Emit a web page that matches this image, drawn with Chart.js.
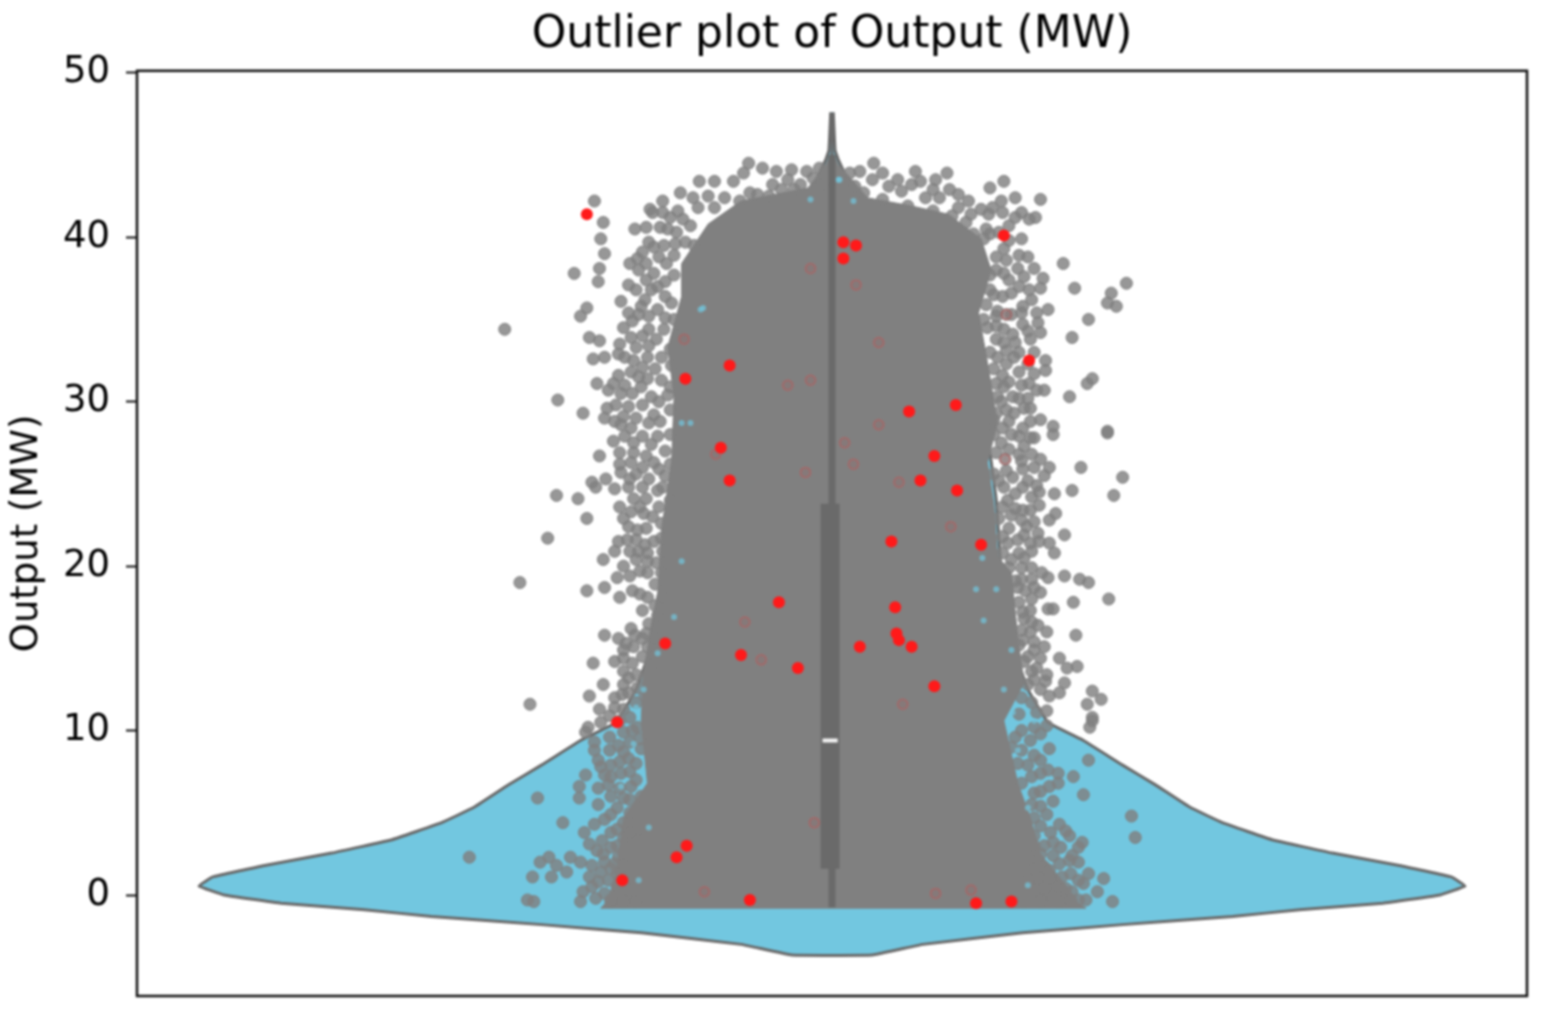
<!DOCTYPE html>
<html>
<head>
<meta charset="utf-8">
<title>Outlier plot of Output (MW)</title>
<script src="https://cdn.jsdelivr.net/npm/chart.js@4"></script>
<style>
    html, body { margin: 0; padding: 0; background: #fff; }
    canvas { display: block; filter: blur(0.8px); }
</style>
</head>
<body>
<canvas id="outlierChart" width="1542" height="1013"></canvas>
<script>
const yTickStep = 10;

// violin half width at each output level, read top to bottom
const violinY = [47.6, 45.3, 44.7, 43.1, 41.7, 39.8, 36.2, 30.1, 24, 19.6, 16.1, 14.5, 12.5, 10.5, 9.4, 7.9, 6.7, 5.35, 4.4, 3.35, 2.55, 1.8, 1.1, 0.55, 0, -0.5, -0.9, -1.3, -1.8, -2.3, -3.0, -3.65];
const violinHalf = [0.001, 0.0024, 0.005, 0.015, 0.028, 0.055, 0.095, 0.119, 0.13, 0.134, 0.143, 0.146, 0.155, 0.171, 0.199, 0.23, 0.256, 0.283, 0.309, 0.349, 0.396, 0.449, 0.49, 0.501, 0.481, 0.436, 0.37, 0.317, 0.23, 0.151, 0.072, 0.032];

// where the points are so dense they merge into one solid area
const denseArea = [[0,45.2],[.005,44.4],[.017,43.4],[.028,42.4],[.063,41.9],[.092,41.4],[.118,39.9],[.126,38],[.116,35.4],[.123,32.4],[.131,28.7],[.123,26.3],[.128,23.8],[.131,20.6],[.142,19.6],[.147,15.7],[.152,12.9],[.136,10.6],[.147,6.8],[.157,4.7],[.165,2.5],[.185,.6],[.195,-.5],[.201,-.8],[-.183,-.8],[-.177,-.3],[-.17,1.7],[-.165,4.7],[-.146,6.8],[-.151,10.6],[-.149,13.7],[-.138,18.1],[-.135,22.2],[-.127,26.3],[-.125,30.3],[-.13,33.3],[-.119,36.4],[-.119,38.4],[-.098,40.8],[-.072,42.2],[-.019,43],[-.005,44.4]];

const leftPoints = [[-.188,42.2],[-.181,40.9],[-.183,39.9],[-.18,39],[-.184,38.1],[-.185,37.3],[-.204,37.8],[-.194,35.7],[-.199,35.2],[-.259,34.4],[-.192,33.9],[-.184,33.7],[-.189,32.6],[-.18,32.7],[-.169,32.9],[-.186,31.1],[-.177,30.7],[-.217,30.1],[-.197,29.3],[-.178,29.6],[-.18,29],[-.156,40.5],[-.167,36.1],[-.161,37.1],[-.154,38.7],[-.145,39.7],[-.144,41.7],[-.134,42.2],[-.12,42.7],[-.105,43.4],[-.093,43.4],[-.078,43.4],[-.07,43.9],[-.066,44.5],[-.055,44.2],[-.044,44],[-.032,44.1],[-.035,43.5],[-.047,43.2],[-.098,42.5],[-.073,42.2],[-.059,42.6],[-.093,41.8],[-.106,41.8],[-.122,41.6],[-.134,41.5],[-.142,41.5],[-.13,40.5],[-.123,40.3],[-.109,39.5],[-.141,39.4],[-.15,39.1],[-.153,38],[-.141,37.8],[-.131,38.4],[-.138,37],[-.143,36.8],[-.151,35.8],[-.161,35.4],[-.153,35.3],[-.138,35.6],[-.127,36],[-.145,34.4],[-.165,34.5],[-.159,33.9],[-.133,34.4],[-.157,32.5],[-.146,32.7],[-.135,32.7],[-.169,31.6],[-.159,31.8],[-.167,30.5],[-.151,30.9],[-.143,30.3],[-.13,30.4],[-.161,29.7],[-.165,29.1],[-.155,29],[-.141,29.2],[-.167,28.6],[-.145,28.7],
    [-.164,27.9],[-.15,27.9],[-.184,26.7],[-.157,26.9],[-.159,26.3],[-.15,26],[-.167,25.7],[-.179,25.3],[-.19,25.1],[-.187,24.8],[-.161,24.8],[-.137,25.9],[-.134,24.8],[-.218,24.3],[-.201,24.1],[-.194,22.9],[-.168,23.6],[-.157,24.1],[-.147,24.1],[-.159,23.3],[-.149,23.2],[-.137,23.6],[-.161,22.4],[-.154,22.2],[-.225,21.7],[-.169,21.5],[-.162,21.6],[-.141,21.5],[-.172,20.9],[-.153,20.9],[-.181,20.4],[-.165,20],[-.155,20.4],[-.146,20.3],[-.139,20.2],[-.17,19.3],[-.146,19.6],[-.247,19],[-.194,18.5],[-.18,18.7],[-.168,18.1],[-.146,18.1],[-.15,17.3],[-.159,16.2],[-.18,15.8],[-.169,15.6],[-.163,15.3],[-.15,15.6],[-.165,14.9],[-.189,14.1],[-.172,14.2],[-.165,14.4],[-.181,12.8],[-.165,13.6],[-.161,13.2],[-.165,12.8],[-.192,12.1],[-.172,12],[-.161,12.3],[-.239,11.6],[-.184,11.3],[-.176,10.9],[-.193,10.2],[-.183,10.5],
    [-.195,9.9],[-.188,9.3],[-.176,9.6],[-.169,9.1],[-.188,8.8],[-.185,8.2],[-.183,7.8],[-.195,7.3],[-.167,7.4],[-.161,8.3],[-.151,8.9],[-.2,6.6],[-.2,5.9],[-.233,5.9],[-.177,6.7],[-.159,6.6],[-.175,6],[-.165,5.9],[-.151,6],[-.213,4.4],[-.175,4.9],[-.165,4.4],[-.196,3.8],[-.175,3.8],[-.165,3.5],[-.192,3.1],[-.153,4],[-.287,2.3],[-.224,2.3],[-.207,2.3],[-.231,2],[-.218,1.8],[-.199,2],[-.181,2.5],[-.169,2.3],[-.237,1.1],[-.222,1.1],[-.21,1.4],[-.192,1.1],[-.183,1.4],[-.197,.2],[-.241,-.3],[-.236,-.4],[-.199,-.4],[-.187,-.2],[-.175,-.4],[-.177,.9]];

// thick band of points hugging the left edge of the solid area
const leftBand = [[-.128,41.2],[-.118,41.1],[-.112,40.7],[-.136,40.6],[-.147,40.6],[-.124,39.6],[-.116,39.7],[-.133,39.5],[-.147,38.4],[-.137,38.8],[-.125,38.9],[-.16,38.4],[-.147,37.4],[-.132,37.3],[-.125,37.7],[-.155,36.8],[-.148,36.2],[-.132,36.4],[-.125,35],[-.132,35.1],[-.145,35.2],[-.158,34.9],[-.122,34],[-.139,33.8],[-.15,34],[-.128,33.2],[-.145,33.4],[-.155,33.3],[-.168,33.5],[-.164,32.7],[-.127,32.2],[-.14,32],[-.15,32.1],[-.135,31.3],[-.146,31.4],[-.153,31.5],[-.164,31],[-.173,31.1],[-.128,30.9],[-.137,30],[-.158,30.5],[-.15,29.8],[-.171,29.8],[-.128,29.5],[-.136,28.8],[-.159,28.4],[-.172,28.8],[-.128,28],[-.138,27.9],[-.143,27.4],[-.157,27.5],[-.173,27.6],[-.132,27],[-.147,26.7],[-.168,26.9],[-.128,26.2],[-.141,26.3],[-.168,26.2],[-.132,25.5],[-.145,25.3],[-.155,25.6],[-.16,25.3],[-.138,24.6],[-.15,24.8],[-.172,24.7],[-.152,23.6],[-.128,24],[-.142,23],[-.165,22.9],[-.135,22.6],[-.147,22.3],[-.135,21.7],[-.148,21.3],[-.155,21.6],[-.134,20.9],[-.16,20.9],[-.146,20.8],[-.135,19.6],[-.152,19.7],[-.16,19.4],[-.14,18.9],[-.158,18.5],[-.134,18.1],[-.152,18.3],[-.14,17.6],[-.138,17],[-.145,16.5],[-.147,15.9],[-.156,15.8],[-.14,15.6],[-.157,15.1],[-.146,15.1],[-.15,14.5],[-.158,14.1],[-.143,14],[-.155,13.4],[-.148,13.2],[-.154,12.6],[-.148,12.1],[-.166,12.2],[-.155,11.7],[-.165,11.3],[-.172,11.4],[-.16,10.8],[-.168,10.6],[-.154,10.2],
    [-.165,9.9],[-.158,10],[-.16,9.3],[-.152,9.5],[-.176,8.8],[-.165,8.7],[-.155,8],[-.175,7.9],[-.168,8.1],[-.16,7.5],[-.18,7.3],[-.175,7.2],[-.155,7],[-.168,6.5],[-.185,6.5],[-.185,5.5],[-.16,5.8],[-.17,5.3],[-.18,4.6],[-.16,5],[-.188,4.3],[-.17,4],[-.182,3.3],[-.16,3.8],[-.17,3],[-.186,2.7],[-.175,2.9],[-.165,2.6],[-.18,2],[-.19,1.8],[-.172,1.9],[-.165,1.8],[-.185,.8],[-.17,1.3],[-.175,1.6],[-.19,.5],[-.165,1],[-.17,.5],[-.18,.1],[-.168,.1],[-.175,-.3],[-.165,-.4],[-.155,-.4],[-.16,.3]];

// cap of points around the top of the violin
const topBand = [[-.015,43.6],[-.02,44],[-.01,44.2],[-.025,43.2],[-.03,42.9],[-.008,43.2],[-.04,42.9],[-.05,42.5],[-.065,42.7],[-.085,42.4],[-.11,42.4],[.008,43.3],[.018,43.1],[.022,44],[.04,43.9],[.045,43.1],[.025,42.7],[.04,42.3],[.055,42.8],[.07,43.4],[.08,42.9],[.085,42.4],[.1,42.6],[.108,42.2],[.06,41.9],[.08,41.6],[.095,41.3],[.11,41.4],[.122,40.5],[.125,40.2],[.14,40.7],[.145,41.2],[.12,39.9],[.136,39.3],[.14,39.8],[.15,39.9]];

const rightPoints = [[.033,44.5],[.014,43.9],[.032,43.5],[.066,44],[.052,43.5],[.063,43.2],[.091,43.9],[.082,43.5],[.093,42.9],[.074,42.4],[.125,43],[.136,43.4],[.145,42.4],[.165,42.3],[.134,42.2],[.1,41.8],[.118,41.7],[.127,41.8],[.135,41.5],[.124,41.4],[.15,41.5],[.156,41.1],[.161,41.2],[.106,40.9],[.112,40.2],[.132,40.3],[.13,38.8],[.148,38.9],[.155,38.8],[.183,38.4],[.136,37.8],[.147,38.1],[.16,38.1],[.167,37.5],[.192,36.9],[.233,37.2],[.221,36.6],[.218,36],[.225,35.8],[.156,36.8],[.128,36.5],[.142,36.6],[.151,35.8],[.171,35.6],[.131,35.5],[.203,35],[.151,34.7],[.163,34.8],[.165,34.2],[.123,34.5],[.136,34.4],[.19,33.9],[.157,33.8],[.136,33.6],[.131,32.7],[.169,32.5],[.169,31.9],[.144,32.7],[.148,31.8],[.156,31.1],[.206,31.4],[.202,31.1],[.168,30.7],[.188,30.3],[.136,30.9],[.131,30.3],[.143,30.3],[.157,29.6],[.144,29.3],[.128,28.9],[.175,28.5],[.218,28.2],[.151,28.4],
    [.175,28],[.218,28.1],[.157,27.8],[.148,27.9],[.134,27.5],[.148,26.8],[.172,26],[.168,25.5],[.197,26],[.23,25.4],[.223,24.3],[.19,24.6],[.176,24.4],[.164,24.5],[.151,25.9],[.143,25.4],[.151,24.8],[.136,24.8],[.164,23.7],[.139,24],[.151,23.4],[.177,23.2],[.172,22.8],[.142,23.1],[.154,22.4],[.184,21.9],[.163,22],[.157,21.4],[.164,21.5],[.172,21.4],[.176,20.8],[.152,20.5],[.139,21.4],[.142,20.4],[.166,19.6],[.171,19.3],[.184,19.4],[.196,19.2],[.203,19],[.16,18.7],[.165,18.4],[.147,18.7],[.219,18],[.191,17.8],[.171,17.4],[.175,17.4],[.157,17.3],[.151,17.2],[.163,16.4],[.17,16],[.193,15.8],[.151,15.5],[.16,15.4],[.168,15.1],[.18,14.4],[.194,13.9],[.186,13.8],[.162,13.8],[.169,13],[.184,12.9],[.16,13.1],[.18,12.3],[.206,12.4],[.213,11.9],[.202,11.6],[.206,10.8],[.204,10.2],
    [.206,10.6],[.203,8.2],[.191,7.2],[.199,6.1],[.237,4.8],[.24,3.5],[.17,10.3],[.157,9.4],[.165,8.2],[.179,7.4],[.179,6.8],[.171,7.6],[.175,5.7],[.165,5.4],[.173,3.8],[.18,4.3],[.188,3.6],[.198,3.2],[.195,2.9],[.181,2.9],[.18,1.9],[.189,1.3],[.203,1.3],[.199,.7],[.215,1],[.222,-.4],[.201,-.3],[.189,-.3],[.168,1.7],[.163,1.1],[.179,.5]];

// same on the right side
const rightBand = [[.13,38],[.138,38.6],[.125,37.7],[.14,37.4],[.152,37.6],[.125,36.8],[.135,36.4],[.148,37],[.158,36.2],[.165,36.9],[.122,35.9],[.13,35.2],[.142,35.3],[.138,35.3],[.15,35.4],[.162,35.4],[.12,35],[.13,34.6],[.143,34.1],[.155,34.3],[.13,33.8],[.145,33.6],[.148,33],[.125,33],[.138,33.1],[.16,33],[.128,32],[.138,32.3],[.155,32.3],[.135,31.6],[.16,31.7],[.14,31.2],[.15,31],[.13,31.1],[.162,30.7],[.134,30],[.148,30.2],[.155,30.2],[.138,29.5],[.152,29.6],[.13,29.3],[.14,28.8],[.157,28.8],[.165,28.9],[.135,28.4],[.128,28],[.142,28],[.16,27.8],[.14,27.1],[.152,27.3],[.13,26.9],[.158,26.8],[.165,26.5],[.137,26.5],[.15,26.4],[.16,26],[.128,25.6],[.138,25.8],[.155,25.2],[.132,25.2],[.162,24.9],[.145,24.4],[.158,24.2],[.135,23.6],[.145,23.5],[.157,23.4],[.132,22.9],[.15,22.8],[.16,22.7],[.14,22.3],[.152,21.9],[.135,21.8],[.147,21.6],[.135,20.8],[.148,20.8],[.158,20.9],[.14,19.9],[.15,19.9],[.158,19.9],[.15,19.2],[.158,19.2],[.145,19.1],[.153,18.5],[.158,18],[.148,17.8],[.152,16.8],[.158,16.6],[.15,16.1],[.157,16],[.148,15.2],[.16,14.9],[.155,14.5],[.152,14.2],[.165,14.4],[.158,13.6],[.17,13.4],[.155,12.8],[.165,12.5],[.172,12.1],[.15,12],[.158,11.7],[.162,11.1],[.148,11],[.17,11.2],
    [.15,10],[.16,10.2],[.145,9.6],[.165,9.8],[.142,9],[.15,8.8],[.16,8.5],[.172,8.9],[.155,7.9],[.147,8],[.165,7.4],[.158,7.2],[.15,6.8],[.172,6.6],[.16,6.2],[.165,6.3],[.158,5.5],[.17,4.9],[.16,4.7],[.185,3.9],[.165,4.2],[.16,3.6],[.175,3.2],[.168,3],[.16,3],[.19,2.4],[.175,2.4],[.165,2.5],[.155,2.2],[.188,2.1],[.195,2],[.172,1.5],[.16,1.6],[.182,1.1],[.195,.9],[.172,1],[.155,.9],[.185,.4],[.168,.4],[.19,.2],[.16,.3],[.21,.2],[.175,-.1],[.195,-.3],[.18,-.4],[.165,-.4],[.152,-.4]];

const outliers = [[-.194,41.4],[.009,38.7],[.019,39.5],[.009,39.7],[.136,40.1],[.156,32.5],[-.116,31.4],[-.081,32.2],[-.088,27.2],[-.081,25.2],[.099,24.6],[.07,25.2],[.098,29.8],[.047,21.5],[.118,21.3],[-.042,17.8],[.05,17.5],[-.132,15.3],[.022,15.1],[.051,15.9],[.053,15.5],[.063,15.1],[-.072,14.6],[-.027,13.8],[.081,12.7],[-.17,10.5],[-.115,3],[-.123,2.3],[-.166,.9],[.142,-.4],[.114,-.5],[-.065,-.3],[.081,26.7],[.061,29.4]];
const hiddenOutliers = [[-.069,16.6],[.056,11.6],[.037,28.6],[.01,27.5],[.094,22.4],[-.017,31.3],[-.035,31],[-.021,25.7],[.017,26.2],[.053,25.1],[-.117,33.8],[.037,33.6],[.138,35.3],[.137,26.5],[.019,37.1],[-.017,38.1],[-.092,26.8],[-.056,14.3],[-.014,4.4],[-.101,.2],[.11,.3],[.082,.1]];

// bits of violin still showing through the points
const violinSpecks = [[-.104,35.6],[-.119,28.7],[-.119,20.3],[-.125,16.9],[-.138,14.7],[-.155,11.4],[-.149,12.5],[.119,20.5],[.142,14.9],[.143,11.1],[.16,10.6],[.114,18.6],[.13,18.6],[.12,16.7],[.136,12.5],[.005,43.5],[-.102,35.7],[-.112,28.7],[.006,43.5],[.017,42.2],[-.017,42.3],[.147,8.8],[.155,5.3],[.155,.6],[-.157,9.2],[-.153,.9],[-.145,4.1],[-.167,6.6]];

const whiskerLow = -0.75;
const whiskerHigh = 45;
const tipHigh = 47.4;
const boxCentre = -0.0015;
const boxLow = 1.6;
const boxHigh = 23.8;
const median = 9.4;

const toXY = pairs => pairs.map(p => ({ x: p[0], y: p[1] }));

function violinOutline() {
    const right = violinY.map((y, i) => ({ x: violinHalf[i], y: y }));
    const left = violinY.map((y, i) => ({ x: -violinHalf[i], y: y })).reverse();
    return right.concat(left);
}

function lineSet(data, color, width, order) {
    return {
        data: data,
        showLine: true,
        borderColor: color,
        borderWidth: width,
        borderCapStyle: 'butt',
        pointRadius: 0,
        order: order
    };
}

const frame = {
    id: 'frame',
    afterDatasetsDraw(chart) {
        const a = chart.chartArea;
        const c = chart.ctx;
        c.save();
        c.strokeStyle = '#111';
        c.lineWidth = 2.5;
        c.strokeRect(a.left, a.top, a.right - a.left, a.bottom - a.top);
        c.restore();
    }
};

new Chart(document.getElementById('outlierChart'), {
    type: 'scatter',
    plugins: [frame],
    data: {
        datasets: [
            Object.assign(lineSet(violinOutline(), '#696969', 3, 10), { fill: 'shape', backgroundColor: '#72c7e0', tension: 0.08 }),
            Object.assign(lineSet(toXY(denseArea).concat(toXY(denseArea.slice(0, 1))), '#808080', 1, 9), { fill: 'shape', backgroundColor: '#808080' }),
            {
                data: toXY(hiddenOutliers),
                pointRadius: 5,
                backgroundColor: 'rgba(255,0,0,0.05)',
                borderColor: 'rgba(255,50,50,0.3)',
                borderWidth: 1.5,
                order: 6
            },
            {
                data: toXY(leftPoints.concat(leftBand, topBand, rightPoints, rightBand)),
                pointRadius: 6,
                backgroundColor: 'rgba(128,128,128,0.82)',
                borderColor: 'rgba(128,128,128,0.95)',
                borderWidth: 1,
                order: 8
            },
            {
                data: toXY(violinSpecks),
                pointRadius: 3,
                backgroundColor: 'rgba(114,199,224,0.7)',
                borderWidth: 0,
                order: 7
            },
            lineSet([{ x: 0, y: whiskerLow }, { x: 0, y: whiskerHigh }], '#6a6a6a', 7, 5),
            lineSet([{ x: 0, y: whiskerHigh }, { x: 0, y: tipHigh }], '#6a6a6a', 3, 5),
            lineSet([{ x: boxCentre, y: boxLow }, { x: boxCentre, y: boxHigh }], '#6a6a6a', 19, 4),
            lineSet([{ x: boxCentre - 0.006, y: median }, { x: boxCentre + 0.006, y: median }], '#f4f4f4', 4, 3),
            {
                data: toXY(outliers),
                pointRadius: 6,
                backgroundColor: '#ff1a1a',
                borderWidth: 0,
                order: 2
            }
        ]
    },
    options: {
        responsive: false,
        animation: false,
        layout: { padding: { left: 0, right: 15, top: 0, bottom: 17 } },
        plugins: {
            legend: { display: false },
            tooltip: { enabled: false },
            title: {
                display: true,
                fullSize: false,
                text: 'Outlier plot of Output (MW)',
                color: '#000',
                font: { family: 'DejaVu Sans', size: 44, weight: 'normal' },
                padding: { top: 9, bottom: 9 }
            }
        },
        scales: {
            x: { type: 'linear', min: -0.55, max: 0.55, display: false },
            y: {
                min: -6.14,
                max: 50.12,
                afterFit(scale) {
                    scale.width = 137;
                    scale.paddingTop = 0;
                    scale.paddingBottom = 0;
                },
                title: {
                    display: true,
                    text: 'Output (MW)',
                    color: '#000',
                    font: { family: 'DejaVu Sans', size: 37, weight: 'normal' },
                    padding: { top: 5, bottom: 0 }
                },
                grid: { drawOnChartArea: false, drawTicks: true, tickLength: 11, tickWidth: 2, tickColor: '#111' },
                border: { display: false },
                ticks: {
                    stepSize: yTickStep,
                    includeBounds: false,
                    color: '#000',
                    padding: 16,
                    font: { family: 'DejaVu Sans', size: 37 }
                }
            }
        }
    }
});
</script>
</body>
</html>
